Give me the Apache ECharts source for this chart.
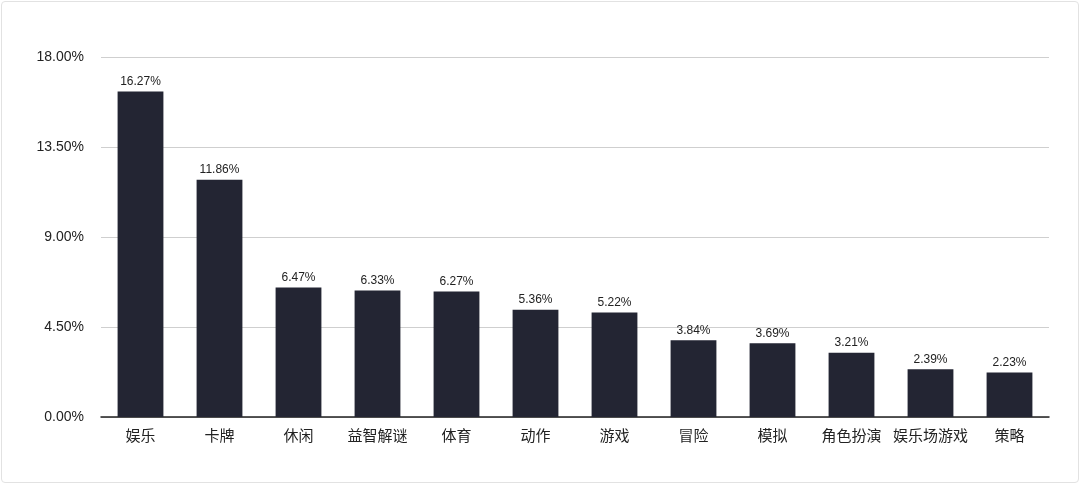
<!DOCTYPE html>
<html><head><meta charset="utf-8">
<script src="https://cdn.jsdelivr.net/npm/echarts@6/dist/echarts.min.js"></script>
<style>
html,body{margin:0;padding:0;background:#fff;}
#wrap{position:absolute;left:1px;top:1px;width:1076px;height:480px;border:1px solid #e2e2e2;border-radius:4px;}
#c{position:absolute;left:0;top:0;width:1080px;height:484px;}
</style></head><body>
<div id="wrap"></div>
<div id="c"></div>
<script>
const categories = ['娱乐','卡牌','休闲','益智解谜','体育','动作','游戏','冒险','模拟','角色扮演','娱乐场游戏','策略'];
const values = [16.27, 11.86, 6.47, 6.33, 6.27, 5.36, 5.22, 3.84, 3.69, 3.21, 2.39, 2.23];
const yTicks = [0, 4.5, 9, 13.5, 18];
const chart = echarts.init(document.getElementById('c'), null, {renderer:'canvas'});
chart.setOption({
  animation:false,
  grid:{left:101, right:31, top:57, bottom:67, containLabel:false},
  xAxis:{type:'category', data:categories,
    axisLine:{lineStyle:{color:'#222', width:1.5}},
    axisTick:{show:false},
    axisLabel:{color:'#222', fontSize:15, margin:11, fontFamily:'"Noto Sans CJK SC", sans-serif', interval:0}},
  yAxis:{type:'value', min:yTicks[0], max:yTicks[yTicks.length-1], interval:4.5,
    axisLine:{show:false}, axisTick:{show:false},
    splitLine:{lineStyle:{color:'#cfcfcf', width:1}},
    axisLabel:{color:'#222', fontSize:14, margin:17, fontFamily:'"Liberation Sans", Arial, sans-serif',
      formatter:v=>v.toFixed(2)+'%'}},
  series:[{type:'bar', data:values, barWidth:'58%',
    itemStyle:{color:'#232533'},
    label:{show:true, position:'top', distance:4, color:'#222', fontSize:12,
      fontFamily:'"Liberation Sans", Arial, sans-serif', formatter:p=>p.value.toFixed(2)+'%'}}]
});
</script>
</body></html>
